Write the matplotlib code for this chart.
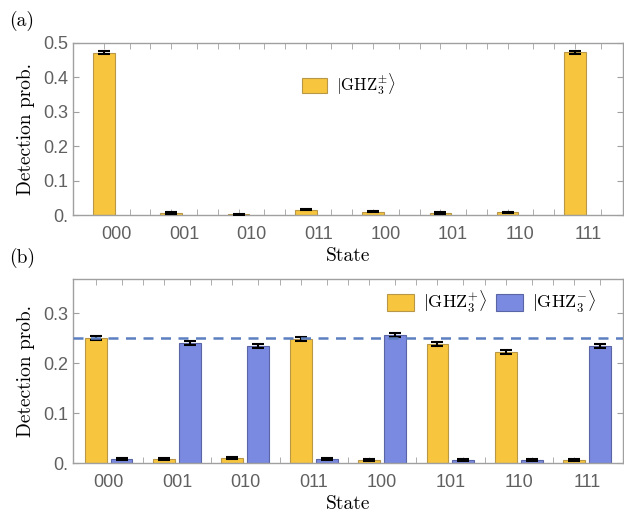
import numpy as np
import matplotlib
matplotlib.use("Agg")
import matplotlib.pyplot as plt

plt.rcParams['mathtext.fontset'] = 'cm'

states = ["000", "001", "010", "011", "100", "101", "110", "111"]

# panel (a): |GHZ3+-> measured in computational basis
prob_a = [0.472, 0.006, 0.002, 0.016, 0.010, 0.006, 0.008, 0.473]
err_a = [0.004, 0.002, 0.001, 0.002, 0.002, 0.002, 0.002, 0.004]

# panel (b): |GHZ3+> and |GHZ3-> in rotated basis
prob_plus = [0.250, 0.009, 0.010, 0.248, 0.007, 0.238, 0.223, 0.006]
err_plus = [0.004, 0.002, 0.002, 0.004, 0.002, 0.004, 0.004, 0.002]
prob_minus = [0.009, 0.240, 0.235, 0.009, 0.256, 0.006, 0.007, 0.235]
err_minus = [0.002, 0.004, 0.004, 0.002, 0.004, 0.002, 0.002, 0.004]
ideal = 0.25

yellow = "#f8c63e"
yellow_edge = "#b89848"
blue = "#7a8ae0"
blue_edge = "#5a65a5"
frame = "#a0a0a0"
tickcol = "#606060"

x = np.arange(len(states))
w = 0.32
off = 0.19

fig = plt.figure(figsize=(6.24, 5.17), dpi=100)
axa = fig.add_axes([0.117, 0.584, 0.881, 0.333])
axb = fig.add_axes([0.117, 0.104, 0.881, 0.356])


def style(ax):
    for s in ax.spines.values():
        s.set_color(frame)
        s.set_linewidth(1.0)
    ax.tick_params(axis='both', which='both', direction='in', color=frame,
                   top=True, right=True, labelcolor=tickcol, labelsize=13)
    ax.tick_params(axis='both', which='major', length=4)
    ax.tick_params(axis='x', which='minor', length=4)
    ax.tick_params(axis='x', which='major', length=0, pad=8)
    minor = np.concatenate([x - off, x + off, x[:-1] + 0.5])
    ax.set_xticks(minor, minor=True)
    ax.set_xticks(x)
    ax.set_xticklabels(states, fontfamily='Liberation Sans')
    for lab in ax.get_yticklabels():
        lab.set_fontfamily('Liberation Sans')
    ax.set_xlabel("State", fontfamily='cmr10', fontsize=14, labelpad=3)
    ax.set_ylabel("Detection prob.", fontfamily='cmr10', fontsize=14, labelpad=6)


# (a)
axa.bar(x - off, prob_a, w, color=yellow, edgecolor=yellow_edge, linewidth=0.8,
        label=r"$|\mathrm{GHZ}_3^{\pm}\rangle$", zorder=2)
axa.errorbar(x - off, prob_a, yerr=err_a, fmt='none', ecolor='black',
             elinewidth=1.5, capsize=4, capthick=1.5, zorder=3)
axa.set_xlim(-0.65, 7.52)
axa.set_ylim(0, 0.5)
axa.set_yticks([0, 0.1, 0.2, 0.3, 0.4, 0.5])
axa.set_yticklabels(["0.", "0.1", "0.2", "0.3", "0.4", "0.5"])
style(axa)
axa.legend(loc='upper left', bbox_to_anchor=(0.405, 0.87), frameon=False,
           fontsize=12, handlelength=1.5, handleheight=1.0, handletextpad=0.5,
           borderaxespad=0)

# (b)
axb.bar(x - off, prob_plus, w, color=yellow, edgecolor=yellow_edge, linewidth=0.8,
        label=r"$|\mathrm{GHZ}_3^{+}\rangle$", zorder=2)
axb.bar(x + off, prob_minus, w, color=blue, edgecolor=blue_edge, linewidth=0.8,
        label=r"$|\mathrm{GHZ}_3^{-}\rangle$", zorder=2)
axb.errorbar(x - off, prob_plus, yerr=err_plus, fmt='none', ecolor='black',
             elinewidth=1.5, capsize=4, capthick=1.5, zorder=3)
axb.errorbar(x + off, prob_minus, yerr=err_minus, fmt='none', ecolor='black',
             elinewidth=1.5, capsize=4, capthick=1.5, zorder=3)
axb.axhline(ideal, color="#5b7fc0", linestyle=(0, (4, 3)), linewidth=1.8, zorder=4)
axb.set_xlim(-0.52, 7.52)
axb.set_ylim(0, 0.368)
axb.set_yticks([0, 0.1, 0.2, 0.3])
axb.set_yticklabels(["0.", "0.1", "0.2", "0.3"])
style(axb)
axb.legend(loc='upper right', bbox_to_anchor=(0.965, 0.985), frameon=False, ncol=2,
           fontsize=13, handlelength=1.5, handleheight=1.1, handletextpad=0.5,
           columnspacing=0.5, borderaxespad=0)

fig.text(0.014, 0.959, "(a)", fontfamily='cmr10', fontsize=14, va='center')
fig.text(0.014, 0.501, "(b)", fontfamily='cmr10', fontsize=14, va='center')

fig.savefig("out.png", dpi=100)
